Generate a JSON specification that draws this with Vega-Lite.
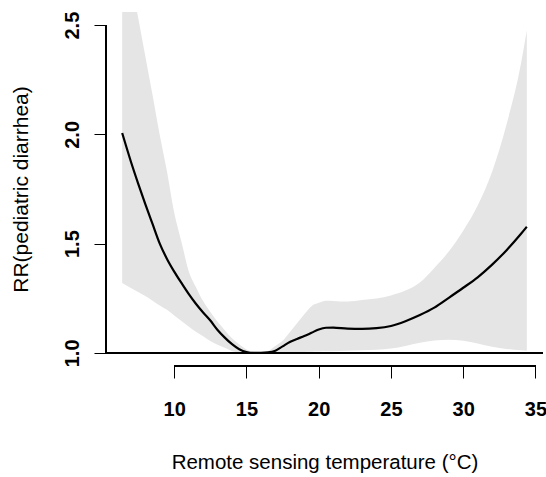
{
  "$schema": "https://vega.github.io/schema/vega-lite/v6.json",
  "width": 437,
  "height": 354,
  "autosize": {"type": "none"},
  "padding": {"left": 106, "top": 12, "right": 3, "bottom": 111},
  "background": "white",
  "config": {"view": {"stroke": null}, "font": "Liberation Sans"},
  "data": {"values": [
    {"t": 6.4, "rr": 2.006, "lo": 1.320, "hi": 2.93},
    {"t": 7, "rr": 1.876, "lo": 1.297, "hi": 2.715},
    {"t": 7.5, "rr": 1.776, "lo": 1.279, "hi": 2.536},
    {"t": 8, "rr": 1.681, "lo": 1.260, "hi": 2.358},
    {"t": 8.5, "rr": 1.59, "lo": 1.239, "hi": 2.18},
    {"t": 9, "rr": 1.50, "lo": 1.217, "hi": 1.997},
    {"t": 9.5, "rr": 1.43, "lo": 1.197, "hi": 1.83},
    {"t": 10, "rr": 1.372, "lo": 1.171, "hi": 1.643},
    {"t": 10.5, "rr": 1.32, "lo": 1.146, "hi": 1.509},
    {"t": 11, "rr": 1.27, "lo": 1.121, "hi": 1.375},
    {"t": 11.5, "rr": 1.225, "lo": 1.097, "hi": 1.302},
    {"t": 12, "rr": 1.185, "lo": 1.076, "hi": 1.237},
    {"t": 12.5, "rr": 1.148, "lo": 1.054, "hi": 1.187},
    {"t": 13, "rr": 1.105, "lo": 1.037, "hi": 1.143},
    {"t": 13.5, "rr": 1.07, "lo": 1.023, "hi": 1.104},
    {"t": 14, "rr": 1.04, "lo": 1.008, "hi": 1.067},
    {"t": 14.5, "rr": 1.017, "lo": 1.002, "hi": 1.039},
    {"t": 15, "rr": 1.004, "lo": 0.998, "hi": 1.016},
    {"t": 15.5, "rr": 1.0, "lo": 0.999, "hi": 1.005},
    {"t": 16, "rr": 1.0, "lo": 1.0, "hi": 1.0},
    {"t": 16.5, "rr": 1.002, "lo": 1.0, "hi": 1.009},
    {"t": 17, "rr": 1.01, "lo": 1.0, "hi": 1.032},
    {"t": 17.5, "rr": 1.03, "lo": 1.001, "hi": 1.056},
    {"t": 18, "rr": 1.05, "lo": 1.002, "hi": 1.095},
    {"t": 18.5, "rr": 1.064, "lo": 1.003, "hi": 1.136},
    {"t": 19, "rr": 1.077, "lo": 1.004, "hi": 1.177},
    {"t": 19.5, "rr": 1.092, "lo": 1.005, "hi": 1.214},
    {"t": 20, "rr": 1.107, "lo": 1.006, "hi": 1.229},
    {"t": 20.5, "rr": 1.115, "lo": 1.007, "hi": 1.239},
    {"t": 21, "rr": 1.116, "lo": 1.008, "hi": 1.238},
    {"t": 22, "rr": 1.111, "lo": 1.01, "hi": 1.235},
    {"t": 23, "rr": 1.110, "lo": 1.012, "hi": 1.242},
    {"t": 24, "rr": 1.113, "lo": 1.014, "hi": 1.249},
    {"t": 25, "rr": 1.123, "lo": 1.02, "hi": 1.263},
    {"t": 26, "rr": 1.145, "lo": 1.032, "hi": 1.285},
    {"t": 27, "rr": 1.173, "lo": 1.046, "hi": 1.322},
    {"t": 28, "rr": 1.207, "lo": 1.057, "hi": 1.389},
    {"t": 29, "rr": 1.252, "lo": 1.06, "hi": 1.464},
    {"t": 30, "rr": 1.298, "lo": 1.055, "hi": 1.559},
    {"t": 31, "rr": 1.346, "lo": 1.043, "hi": 1.674},
    {"t": 32, "rr": 1.404, "lo": 1.028, "hi": 1.829},
    {"t": 33, "rr": 1.47, "lo": 1.018, "hi": 2.046},
    {"t": 34, "rr": 1.545, "lo": 1.012, "hi": 2.325},
    {"t": 34.4, "rr": 1.577, "lo": 1.01, "hi": 2.477}
  ]},
  "layer": [
    {
      "mark": {"type": "area", "color": "#e5e5e5", "clip": true, "interpolate": "monotone"},
      "encoding": {
        "x": {"field": "t", "type": "quantitative",
          "scale": {"domain": [5.28, 35.52], "nice": false, "zero": false},
          "axis": {"values": [10, 15, 20, 25, 30, 35], "domain": false, "grid": false,
            "tickSize": 12, "tickColor": "black", "tickWidth": 1,
            "labelFont": "Liberation Sans", "labelFontWeight": "bold", "labelFontSize": 20,
            "labelColor": "black", "labelPadding": 21, "labelFlush": false, "labelOverlap": false,
            "title": "Remote sensing temperature (°C)", "titleFont": "Liberation Sans",
            "titleFontWeight": "normal", "titleFontSize": 20.5, "titleColor": "black", "titlePadding": 33}},
        "y": {"field": "lo", "type": "quantitative",
          "scale": {"domain": [0.94, 2.56], "nice": false, "zero": false},
          "axis": {"values": [1, 1.5, 2, 2.5], "format": ".1f", "domain": false, "grid": false,
            "tickSize": 12, "tickColor": "black", "tickWidth": 1,
            "labelFont": "Liberation Sans", "labelFontWeight": "bold", "labelFontSize": 20,
            "labelColor": "black", "labelAngle": -90, "labelAlign": "center", "labelBaseline": "bottom",
            "labelPadding": 12, "labelFlush": false, "labelOverlap": false,
            "title": "RR(pediatric diarrhea)", "titleFont": "Liberation Sans",
            "titleFontWeight": "normal", "titleFontSize": 21, "titleColor": "black", "titlePadding": 31}},
        "y2": {"field": "hi"}
      }
    },
    {
      "mark": {"type": "line", "color": "black", "strokeWidth": 2.2, "clip": true, "interpolate": "monotone"},
      "encoding": {
        "x": {"field": "t", "type": "quantitative"},
        "y": {"field": "rr", "type": "quantitative"}
      }
    },
    {
      "mark": {"type": "rule", "color": "black", "strokeWidth": 2},
      "encoding": {"y": {"datum": 1, "type": "quantitative"}}
    },
    {
      "mark": {"type": "rule", "color": "black", "strokeWidth": 1},
      "encoding": {
        "x": {"datum": 5.28, "type": "quantitative"},
        "y": {"datum": 1, "type": "quantitative"},
        "y2": {"datum": 2.5}
      }
    },
    {
      "mark": {"type": "rule", "color": "black", "strokeWidth": 1},
      "encoding": {
        "x": {"datum": 10, "type": "quantitative"},
        "x2": {"datum": 35},
        "y": {"datum": 0.94, "type": "quantitative"}
      }
    }
  ]
}
